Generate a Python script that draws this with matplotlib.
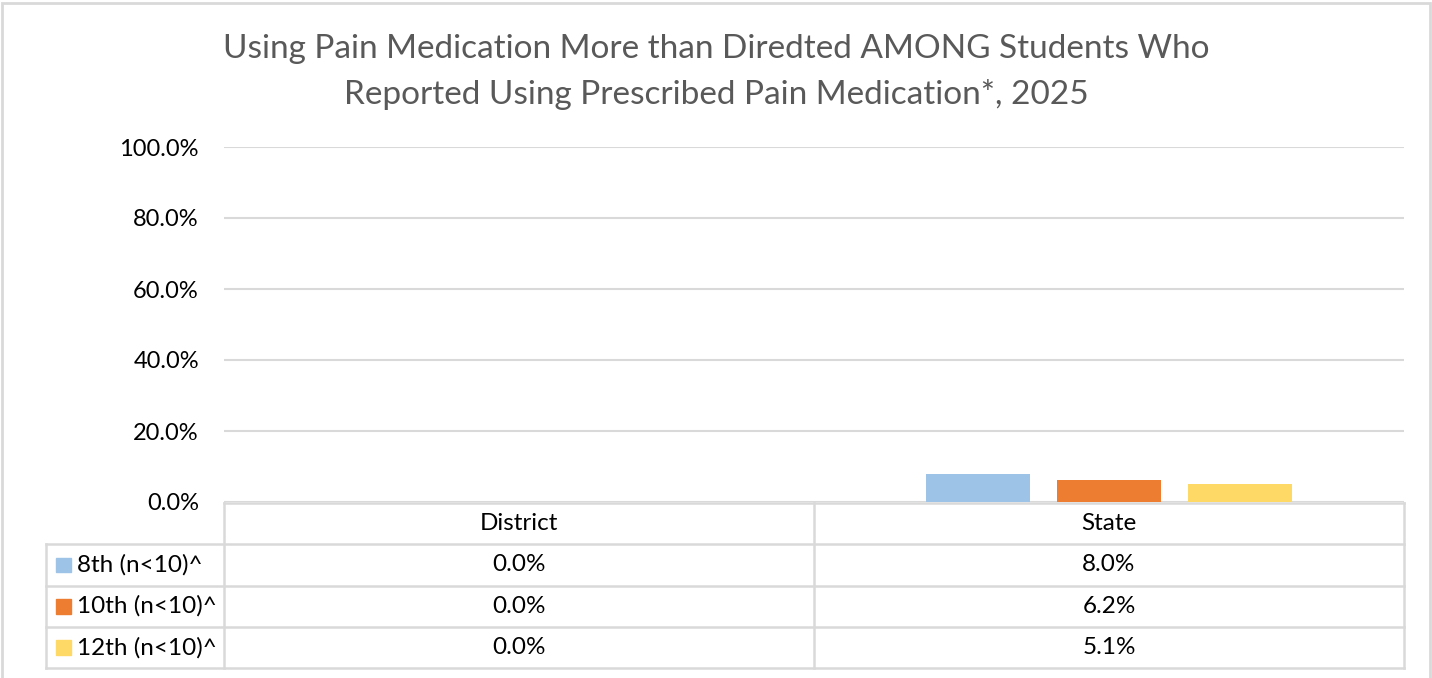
import matplotlib
matplotlib.use("Agg")
import matplotlib.pyplot as plt
from matplotlib.patches import Rectangle
from matplotlib.lines import Line2D

# chart data
categories = ["District", "State"]
series_names = ["8th (n<10)^", "10th (n<10)^", "12th (n<10)^"]
values_8th = [0.0, 8.0]
values_10th = [0.0, 6.2]
values_12th = [0.0, 5.1]
yticks = [0, 20, 40, 60, 80, 100]
title = "Using Pain Medication More than Diredted AMONG Students Who\nReported Using Prescribed Pain Medication*, 2025"

series_values = [values_8th, values_10th, values_12th]
colors = ["#9DC3E6", "#ED7D31", "#FFD966"]
gridcolor = "#D9D9D9"

W, H = 1432, 678
plt.rcParams['font.family'] = ['Lato', 'DejaVu Sans']
fig = plt.figure(figsize=(W / 100, H / 100), dpi=100)

def fx(px):
    return px / W

def fy(py):
    return 1 - py / H

# outer chart frame
fig.add_artist(Rectangle((fx(2), fy(700)), fx(1428), (700 - 3) / H, transform=fig.transFigure,
                         fill=False, edgecolor=gridcolor, linewidth=2))

# main plot area
ax_left, ax_right, ax_top, ax_bottom = 224, 1404, 147, 502
ax = fig.add_axes([fx(ax_left), fy(ax_bottom), fx(ax_right - ax_left), (ax_bottom - ax_top) / H])
ax.set_xlim(-0.5, len(categories) - 0.5)
ax.set_ylim(0, 100)

bar_width = 0.176
pitch = 0.222
for i, vals in enumerate(series_values):
    offs = (i - 1) * pitch
    ax.bar([c + offs for c in range(len(categories))], vals, width=bar_width, color=colors[i], zorder=3)

ax.set_yticks(yticks)
ax.set_yticklabels([f"{t:.1f}%" for t in yticks], fontsize=17, color="#000000")
ax.tick_params(axis='y', length=0, pad=18)
ax.set_xticks([])
ax.grid(axis='y', color=gridcolor, linewidth=1.5, zorder=0)
for s in ax.spines.values():
    s.set_visible(False)

fig.text(0.5, fy(72), title, ha='center', va='center', fontsize=24, color="#595959",
         linespacing=1.6)

# data table under the axis
px_per_unit = (ax_right - ax_left) / len(categories)
tbl_left_px = 46
row_top, row_h = 503, 41.3
n_rows = len(series_names) + 1
tab = fig.add_axes([fx(tbl_left_px), fy(row_top + n_rows * row_h), fx(ax_right - tbl_left_px),
                    n_rows * row_h / H])
tab.set_xlim(-0.5 - (ax_left - tbl_left_px) / px_per_unit, len(categories) - 0.5)
tab.set_ylim(n_rows, 0)
tab.axis('off')
xl = tab.get_xlim()[0]
lw = 1.8
# horizontal lines
tab.add_line(Line2D([-0.5, len(categories) - 0.5], [0, 0], color=gridcolor, lw=lw, clip_on=False))
for r in range(1, n_rows + 1):
    tab.add_line(Line2D([xl, len(categories) - 0.5], [r, r], color=gridcolor, lw=lw, clip_on=False))
# vertical lines
tab.add_line(Line2D([xl, xl], [1, n_rows], color=gridcolor, lw=lw, clip_on=False))
for c in range(len(categories) + 1):
    tab.add_line(Line2D([c - 0.5, c - 0.5], [0, n_rows], color=gridcolor, lw=lw, clip_on=False))

fs = 17.5
for c, cat in enumerate(categories):
    tab.text(c, 0.5, cat, ha='center', va='center', fontsize=fs)
    for r, vals in enumerate(series_values):
        tab.text(c, r + 1.5, f"{vals[c]:.1f}%", ha='center', va='center', fontsize=fs)

sq = 15 / px_per_unit
for r, name in enumerate(series_names):
    x0 = xl + 10 / px_per_unit
    tab.add_patch(Rectangle((x0, r + 1.5 - 0.18), sq, 0.36, color=colors[r], clip_on=False))
    tab.text(x0 + sq + 6 / px_per_unit, r + 1.5, name, ha='left', va='center', fontsize=fs)

fig.savefig("out.png", dpi=100)
